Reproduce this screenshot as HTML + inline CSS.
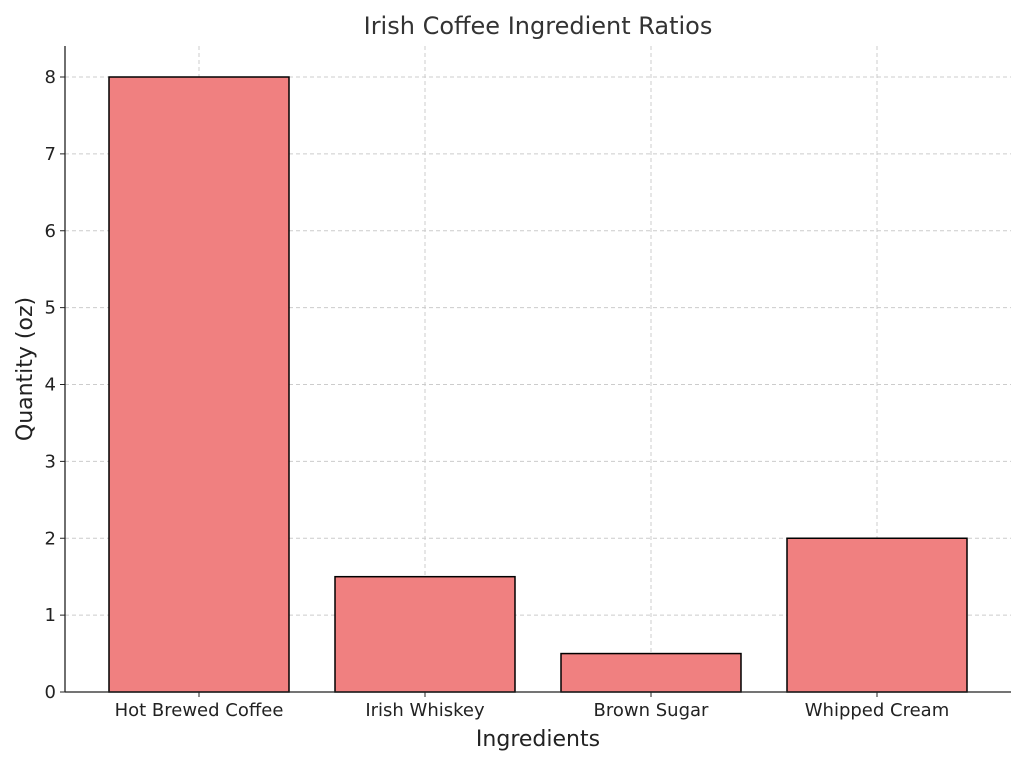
<!DOCTYPE html>
<html><head><meta charset="utf-8"><style>
body{margin:0;background:#fff;}
svg{display:block;font-family:"DejaVu Sans","Liberation Sans",sans-serif;}
</style></head><body>
<svg id="chart" width="1024" height="765">
<rect width="1024" height="765" fill="#fff"/>
<text x="538" y="34" text-anchor="middle" font-size="24" fill="#333">Irish Coffee Ingredient Ratios</text>
<g id="grid"></g><g id="bars"></g><g id="axes"></g>
<text x="538" y="746" text-anchor="middle" font-size="22" fill="#222">Ingredients</text>
<text transform="translate(32,369) rotate(-90)" text-anchor="middle" font-size="22" fill="#222">Quantity (oz)</text>
</svg>
<script>
const categories=["Hot Brewed Coffee","Irish Whiskey","Brown Sugar","Whipped Cream"];
const values=[8,1.5,0.5,2];
const yTicks=[0,1,2,3,4,5,6,7,8];
const L=65,R=1011,T=46,B=692;
const y0=692,yPer=(692-77)/8;
const ys=v=>y0-v*yPer;
const step=226,first=199;
const xs=i=>first+i*step;
const bw=180;
const NS="http://www.w3.org/2000/svg";
function mk(t,a,p){const e=document.createElementNS(NS,t);for(const k in a)e.setAttribute(k,a[k]);p.appendChild(e);return e;}
const grid=document.getElementById('grid'),bars=document.getElementById('bars'),axes=document.getElementById('axes');
yTicks.forEach(v=>{
 const g=mk('line',{x1:L,x2:R,y1:ys(v),y2:ys(v),stroke:'#ccc','stroke-dasharray':'4,3','stroke-width':1},grid);
 
 
 const tk=mk('line',{x1:L-5,x2:L,y1:ys(v),y2:ys(v),stroke:'#222'},axes);
 
 
 const t=mk('text',{x:L-9,y:ys(v)+6,'text-anchor':'end','font-size':18,fill:'#222'},axes);
 t.textContent=v;
 
 
});
categories.forEach((c,i)=>{
 const g=mk('line',{x1:xs(i),x2:xs(i),y1:T,y2:B,stroke:'#ccc','stroke-dasharray':'4,3'},grid);
 
 
 const r=mk('rect',{x:xs(i)-bw/2,y:ys(values[i]),width:bw,height:y0-ys(values[i]),fill:'#F08080',stroke:'#000','stroke-width':1.5},bars);
 
 
 const tk=mk('line',{x1:xs(i),x2:xs(i),y1:B,y2:B+5,stroke:'#222'},axes);
 
 
 const t=mk('text',{x:xs(i),y:B+24,'text-anchor':'middle','font-size':18,fill:'#222'},axes);
 t.textContent=c;
 
 
});
const la=mk('line',{x1:L,x2:L,y1:T,y2:B,stroke:'#222','stroke-width':1.3},axes);


const ba=mk('line',{x1:L,x2:R,y1:B,y2:B,stroke:'#222','stroke-width':1.3},axes);


</script>
</body></html>
